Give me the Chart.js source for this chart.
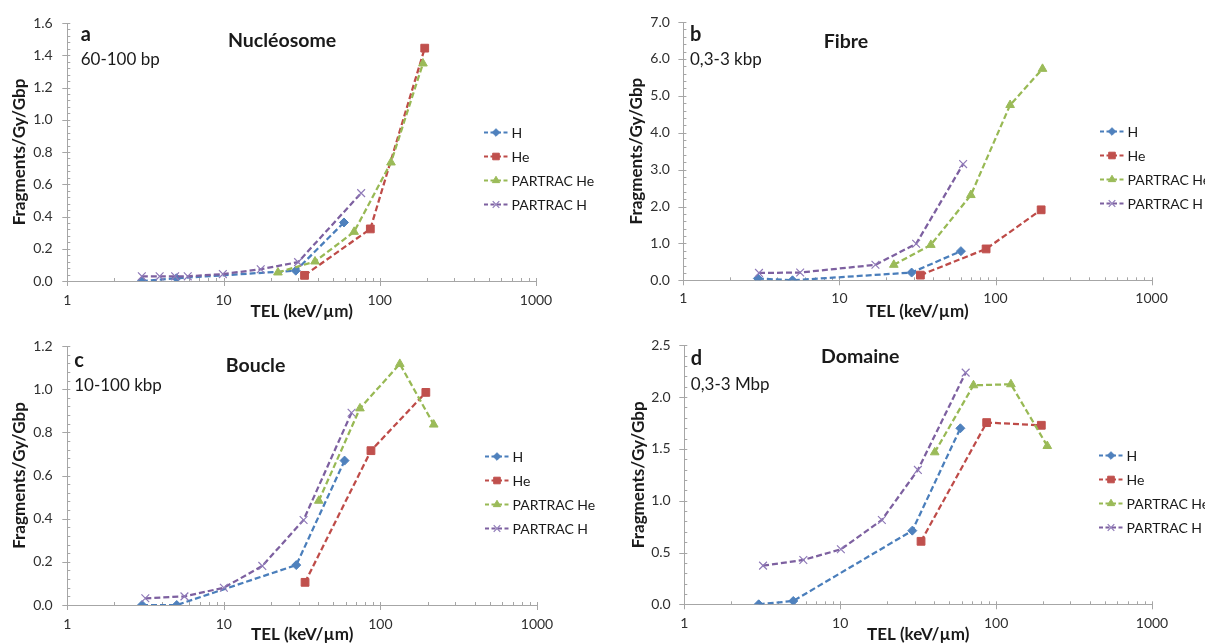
<!DOCTYPE html>
<html><head><meta charset="utf-8">
<script src="https://cdn.jsdelivr.net/npm/chart.js@4.4.1/dist/chart.umd.min.js"></script>
<style>
html,body{margin:0;padding:0;background:#fff;}
#wrap{position:relative;width:1205px;height:643px;overflow:hidden;background:#fff;}
canvas{position:absolute;}
</style></head><body>
<div id="wrap">
<canvas id="pa" width="600" height="321" style="left:0;top:0;width:600px;height:321px"></canvas>
<canvas id="pb" width="605" height="321" style="left:600px;top:0;width:605px;height:321px"></canvas>
<canvas id="pc" width="600" height="322" style="left:0;top:321px;width:600px;height:322px"></canvas>
<canvas id="pd" width="605" height="322" style="left:600px;top:321px;width:605px;height:322px"></canvas>
</div>
<script>
// ---------------- DATA ----------------
const SERIES_NAMES = ['H', 'He', 'PARTRAC He', 'PARTRAC H'];
const X_TICK_LABELS = [1, 10, 100, 1000];
const X_TITLE = 'TEL (keV/\u00b5m)';
const Y_TITLE = 'Fragments/Gy/Gbp';
const PANEL_LETTERS = ['a', 'b', 'c', 'd'];
const PANEL_TITLES = ['Nucl\u00e9osome', 'Fibre', 'Boucle', 'Domaine'];
const PANEL_RANGES = ['60-100 bp', '0,3-3 kbp', '10-100 kbp', '0,3-3 Mbp'];
const Y_MAX = [1.6, 7.0, 1.2, 2.5];
const Y_STEP = [0.2, 1.0, 0.2, 0.5];
const Y_MINOR = [0.04, 0.2, 0.04, 0.1];

// a — Nucléosome
const nuc_H_tel = [3, 5, 29, 59];
const nuc_H_frag = [0.00, 0.017, 0.064, 0.363];
const nuc_He_tel = [33, 87, 194];
const nuc_He_frag = [0.035, 0.323, 1.444];
const nuc_PHe_tel = [22.3, 38.5, 68.5, 118, 189];
const nuc_PHe_frag = [0.053, 0.121, 0.305, 0.735, 1.349];
const nuc_PH_tel = [3, 3.9, 4.9, 5.9, 9.9, 17.3, 30, 76];
const nuc_PH_frag = [0.029, 0.029, 0.029, 0.029, 0.043, 0.073, 0.117, 0.545];

// b — Fibre
const fib_H_tel = [3, 5, 29, 60];
const fib_H_frag = [0.05, 0.0, 0.21, 0.79];
const fib_He_tel = [33, 87, 196];
const fib_He_frag = [0.14, 0.85, 1.91];
const fib_PHe_tel = [22.3, 38.5, 69.5, 124, 200];
const fib_PHe_frag = [0.42, 0.96, 2.31, 4.75, 5.73];
const fib_PH_tel = [3.05, 5.6, 17, 31, 62];
const fib_PH_frag = [0.20, 0.21, 0.42, 0.99, 3.15];

// c — Boucle
const bou_H_tel = [3, 5, 29, 59];
const bou_H_frag = [0.0, 0.0, 0.185, 0.669];
const bou_He_tel = [33, 87, 195];
const bou_He_frag = [0.105, 0.715, 0.985];
const bou_PHe_tel = [40.4, 74, 133, 219];
const bou_PHe_frag = [0.483, 0.911, 1.117, 0.836];
const bou_PH_tel = [3.15, 5.6, 10, 17.6, 32.3, 65.4];
const bou_PH_frag = [0.031, 0.040, 0.080, 0.181, 0.394, 0.891];

// d — Domaine
const dom_H_tel = [3, 5, 29, 59];
const dom_H_frag = [0.0, 0.032, 0.711, 1.699];
const dom_He_tel = [33, 87, 195];
const dom_He_frag = [0.608, 1.754, 1.728];
const dom_PHe_tel = [40.4, 71.6, 124.5, 213];
const dom_PHe_frag = [1.467, 2.114, 2.124, 1.528];
const dom_PH_tel = [3.2, 5.8, 10.1, 18.5, 31.5, 63.8];
const dom_PH_frag = [0.373, 0.428, 0.531, 0.814, 1.297, 2.236];

const PANEL_SERIES = [
  [[nuc_H_tel, nuc_H_frag], [nuc_He_tel, nuc_He_frag], [nuc_PHe_tel, nuc_PHe_frag], [nuc_PH_tel, nuc_PH_frag]],
  [[fib_H_tel, fib_H_frag], [fib_He_tel, fib_He_frag], [fib_PHe_tel, fib_PHe_frag], [fib_PH_tel, fib_PH_frag]],
  [[bou_H_tel, bou_H_frag], [bou_He_tel, bou_He_frag], [bou_PHe_tel, bou_PHe_frag], [bou_PH_tel, bou_PH_frag]],
  [[dom_H_tel, dom_H_frag], [dom_He_tel, dom_He_frag], [dom_PHe_tel, dom_PHe_frag], [dom_PH_tel, dom_PH_frag]]
];

// ---------------- STYLE / LAYOUT ----------------
const FONT = 'Lato, Carlito, "Open Sans", sans-serif';
const AXIS = '#a6a6a6';
const TEXT = '#1a1a1a';
const TICKTEXT = '#303030';
const STYLES = [
  {line: '#4a7ebb', fill: '#4f81bd', border: '#4f81bd', bw: 1, style: 'rectRot', r: 4.5},
  {line: '#be4b48', fill: '#c0504d', border: '#c0504d', bw: 1, style: 'rect', r: 5.5},
  {line: '#98b954', fill: '#9bbb59', border: '#9bbb59', bw: 1, style: 'triangle', r: 5},
  {line: '#7d60a0', fill: 'rgba(0,0,0,0)', border: '#8f7ab8', bw: 1.2, style: 'crossRot', r: 5.5}
];
const LAYOUT = [
  {id: 'pa', w: 600, h: 321, l: 67.3, r: 536, t: 22, b: 281, yTitlePad: 9, xTitlePad: -1, xLabelPad: 11, yLabelPad: 14.6,
   letter: [80.7, 40.7], title: [228, 47.3], range: [80.7, 64.5], legend: [484, 132]},
  {id: 'pb', w: 605, h: 321, l: 83.4, r: 551.6, t: 22, b: 280.3, yTitlePad: 26.7, xTitlePad: -1, xLabelPad: 10, yLabelPad: 13.6,
   letter: [90, 40.7], title: [223.8, 48.3], range: [90, 65], legend: [500, 131]},
  {id: 'pc', w: 600, h: 322, l: 67.3, r: 537, t: 25, b: 284, yTitlePad: 9, xTitlePad: -2, xLabelPad: 11, yLabelPad: 14.6,
   letter: [74.2, 45.7], title: [225.8, 51], range: [74.2, 70], legend: [485, 135]},
  {id: 'pd', w: 605, h: 322, l: 84.3, r: 552, t: 24.3, b: 283.3, yTitlePad: 28.2, xTitlePad: -2, xLabelPad: 11, yLabelPad: 13.6,
   letter: [90.8, 44], title: [221, 42.3], range: [90.8, 69], legend: [499, 134]}
];

function decorPlugin(k, L) {
  return {
    id: 'decor' + k,
    beforeDatasetsDraw(chart) {
      const ctx = chart.ctx, A = chart.chartArea, xs = chart.scales.x, ys = chart.scales.y;
      ctx.save();
      ctx.strokeStyle = AXIS; ctx.lineWidth = 1; ctx.beginPath();
      for (let e = 0; e <= 3; e++) {
        for (let m = 1; m <= 9; m++) {
          const v = m * Math.pow(10, e);
          if (v > 1000) break;
          const px = Math.round(xs.getPixelForValue(v)) + 0.5;
          ctx.moveTo(px, A.bottom - 3);
          ctx.lineTo(px, A.bottom + (m === 1 ? 5 : 0));
        }
      }
      const n = Math.round(Y_MAX[k] / Y_MINOR[k]);
      const per = Math.round(Y_STEP[k] / Y_MINOR[k]);
      for (let i = 0; i <= n; i++) {
        const py = Math.round(ys.getPixelForValue(i * Y_MINOR[k])) + 0.5;
        ctx.moveTo(A.left - (i % per === 0 ? 5 : 0), py);
        ctx.lineTo(A.left + 3, py);
      }
      ctx.stroke();
      ctx.restore();
    },
    afterDraw(chart) {
      const ctx = chart.ctx;
      ctx.save();
      ctx.fillStyle = TEXT;
      ctx.textBaseline = 'alphabetic';
      ctx.textAlign = 'left';
      ctx.font = 'bold 20px ' + FONT;
      ctx.fillText(PANEL_LETTERS[k], L.letter[0], L.letter[1]);
      ctx.font = 'bold 19.5px ' + FONT;
      ctx.fillText(PANEL_TITLES[k], L.title[0], L.title[1]);
      ctx.font = '17px ' + FONT;
      ctx.fillText(PANEL_RANGES[k], L.range[0], L.range[1]);
      // legend
      chart.data.datasets.forEach((ds, i) => {
        const st = STYLES[i];
        const x0 = L.legend[0], y = L.legend[1] + i * 24;
        ctx.save();
        ctx.strokeStyle = st.line; ctx.lineWidth = 2; ctx.setLineDash([4, 2.5]);
        ctx.beginPath(); ctx.moveTo(x0, y + 0.5); ctx.lineTo(x0 + 24, y + 0.5); ctx.stroke();
        ctx.setLineDash([]);
        ctx.fillStyle = st.fill; ctx.strokeStyle = st.border; ctx.lineWidth = st.bw;
        Chart.helpers.drawPoint(ctx, {pointStyle: st.style, radius: st.r * 0.85, rotation: 0, borderWidth: st.bw}, x0 + 12, y + 0.5);
        ctx.fillStyle = TEXT; ctx.font = '14px ' + FONT; ctx.textBaseline = 'middle';
        ctx.fillText(ds.label, x0 + 27.5, y + 1);
        ctx.restore();
      });
      ctx.restore();
    }
  };
}

function makePanel(k) {
  const L = LAYOUT[k];
  const datasets = PANEL_SERIES[k].map((pair, i) => {
    const st = STYLES[i];
    return {
      label: SERIES_NAMES[i],
      data: pair[0].map((x, j) => ({x: x, y: pair[1][j]})),
      borderColor: st.line,
      backgroundColor: st.fill,
      borderWidth: 2.25,
      borderDash: [6, 3],
      pointStyle: st.style,
      pointRadius: st.r,
      pointBackgroundColor: st.fill,
      pointBorderColor: st.border,
      pointBorderWidth: st.bw,
      tension: 0,
      fill: false,
      order: 3 - i
    };
  });
  new Chart(document.getElementById(L.id), {
    type: 'line',
    data: {datasets: datasets},
    options: {
      responsive: false,
      animation: false,
      devicePixelRatio: 1,
      layout: {padding: {left: 0, top: L.t, right: L.w - L.r, bottom: 0}},
      plugins: {legend: {display: false}, tooltip: {enabled: false}, title: {display: false}},
      scales: {
        x: {
          type: 'logarithmic', min: 1, max: 1000,
          afterFit: s => { s.height = L.h - L.b; },
          grid: {display: true, drawOnChartArea: false, drawTicks: false},
          border: {display: true, color: AXIS, width: 1},
          ticks: {
            autoSkip: false, maxRotation: 0, minRotation: 0, padding: L.xLabelPad,
            color: TICKTEXT, font: {family: FONT, size: 14},
            callback: v => (X_TICK_LABELS.indexOf(v) >= 0 ? String(v) : '')
          },
          title: {display: true, text: X_TITLE, color: TEXT, font: {family: FONT, size: 17, weight: 'bold'},
                  padding: {top: 0, bottom: L.xTitlePad}}
        },
        y: {
          type: 'linear', min: 0, max: Y_MAX[k],
          afterFit: s => { s.width = L.l; },
          grid: {display: true, drawOnChartArea: false, drawTicks: false},
          border: {display: true, color: AXIS, width: 1},
          ticks: {
            stepSize: Y_STEP[k], autoSkip: false, padding: L.yLabelPad, color: TICKTEXT,
            font: {family: FONT, size: 14},
            callback: v => v.toFixed(1)
          },
          title: {display: true, text: Y_TITLE, color: TEXT, font: {family: FONT, size: 17, weight: 'bold'},
                  padding: {top: L.yTitlePad, bottom: 0}}
        }
      }
    },
    plugins: [decorPlugin(k, L)]
  });
}

[0, 1, 2, 3].forEach(makePanel);
</script>
</body></html>
